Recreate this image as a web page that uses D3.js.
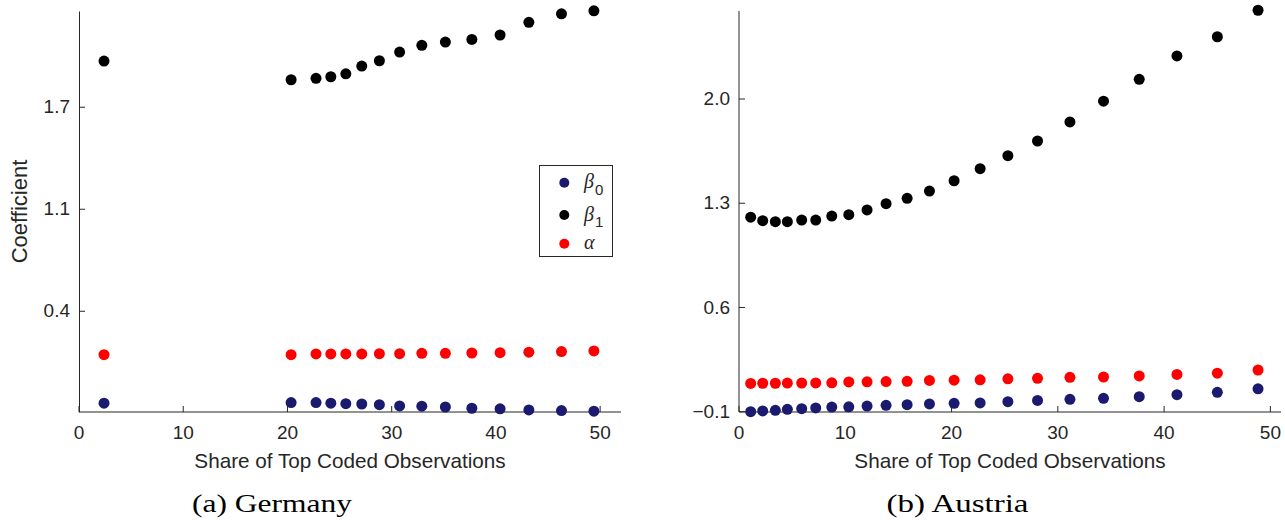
<!DOCTYPE html>
<html>
<head>
<meta charset="utf-8">
<script src="https://cdn.jsdelivr.net/npm/d3@7"></script>
<style>
  html, body { margin: 0; padding: 0; background: #fff; }
  svg { display: block; }
  .tick text { font-family: "Liberation Sans", Arial, sans-serif; font-size: 19px; fill: #262626; }
</style>
</head>
<body>
<svg id="fig" width="1285" height="520"></svg>
<script>
// Germany: share of top-coded observations and estimated coefficients
const deShare = [2.4, 20.35, 22.74, 24.16, 25.6, 27.13, 28.82, 30.76, 32.89, 35.15, 37.69, 40.4, 43.16, 46.29, 49.4];
const deBeta0 = [-0.169, -0.165, -0.165, -0.169, -0.172, -0.174, -0.178, -0.186, -0.188, -0.193, -0.201, -0.205, -0.212, -0.216, -0.220];
const deBeta1 = [2.011, 1.892, 1.901, 1.911, 1.930, 1.979, 2.013, 2.068, 2.111, 2.132, 2.149, 2.177, 2.258, 2.312, 2.331];
const deAlpha = [0.140, 0.140, 0.145, 0.145, 0.145, 0.145, 0.147, 0.147, 0.149, 0.149, 0.151, 0.153, 0.156, 0.160, 0.164];

// Austria
const atShare = [1.10, 2.23, 3.42, 4.55, 5.90, 7.22, 8.73, 10.33, 12.05, 13.84, 15.82, 17.92, 20.24, 22.69, 25.30, 28.09, 31.14, 34.30, 37.66, 41.21, 45.01, 48.84];
const atBeta0 = [-0.100, -0.095, -0.091, -0.084, -0.080, -0.075, -0.069, -0.067, -0.062, -0.057, -0.053, -0.048, -0.044, -0.041, -0.033, -0.024, -0.017, -0.010, 0.001, 0.014, 0.030, 0.054];
const atBeta1 = [1.206, 1.183, 1.176, 1.176, 1.187, 1.187, 1.214, 1.223, 1.255, 1.297, 1.333, 1.382, 1.451, 1.532, 1.619, 1.718, 1.846, 1.985, 2.132, 2.289, 2.418, 2.596];
const atAlpha = [0.090, 0.091, 0.091, 0.092, 0.092, 0.093, 0.094, 0.100, 0.101, 0.102, 0.104, 0.110, 0.112, 0.114, 0.121, 0.124, 0.131, 0.133, 0.140, 0.150, 0.159, 0.180];

// Tick values and labels
const xTicks = [0, 10, 20, 30, 40, 50];
const deYTicks = [0.42, 1.07, 1.72];
const atYTicks = [-0.1, 0.6, 1.3, 2.0];

// Legend entries
const legendSymbols = ["\u03B2", "\u03B2", "\u03B1"];
const legendSubs = ["0", "1", ""];
const seriesColors = ["#1a1a6f", "#000000", "#ff0000"];

const svg = d3.select("#fig");
const AX = "#262626";

function panel(cfg) {
  const x = d3.scaleLinear().domain(cfg.xDomain).range([cfg.left, cfg.right]);
  const y = d3.scaleLinear().domain(cfg.yDomain).range([cfg.bottom, cfg.top]);
  const g = svg.append("g");

  // x axis (ticks point inward)
  const xa = g.append("g")
    .attr("transform", `translate(0,${Math.round(cfg.bottom)})`)
    .call(d3.axisBottom(x).tickValues(xTicks).tickFormat(d3.format("d"))
      .tickSizeInner(-6).tickSizeOuter(0).tickPadding(14).offset(0));
  xa.select(".domain").attr("stroke", AX).attr("stroke-width", 1);
  xa.selectAll(".tick line").attr("stroke", AX);

  // y axis
  const ya = g.append("g")
    .attr("transform", `translate(${cfg.left},0)`)
    .call(d3.axisLeft(y).tickValues(cfg.yTicks).tickFormat(d3.format(".1f"))
      .tickSizeInner(-6).tickSizeOuter(0).tickPadding(9).offset(cfg.yOffset));
  ya.select(".domain").attr("stroke", AX).attr("stroke-width", 1);
  ya.selectAll(".tick line").attr("stroke", AX);

  // x label
  g.append("text")
    .attr("x", (cfg.left + cfg.right) / 2).attr("y", 467.5)
    .attr("text-anchor", "middle")
    .style("font-family", "'Liberation Sans', Arial, sans-serif")
    .style("font-size", "20.7px").style("fill", AX)
    .text("Share of Top Coded Observations");

  // points
  const series = [cfg.b0, cfg.b1, cfg.a];
  series.forEach((vals, si) => {
    g.append("g").selectAll("circle")
      .data(vals.map((v, i) => [cfg.share[i], v]))
      .join("circle")
      .attr("cx", d => x(d[0]))
      .attr("cy", d => y(d[1]))
      .attr("r", 5.5)
      .attr("fill", seriesColors[si]);
  });

  // caption
  g.append("text")
    .attr("x", cfg.capX).attr("y", 512)
    .attr("text-anchor", "middle")
    .attr("textLength", cfg.capLen).attr("lengthAdjust", "spacingAndGlyphs")
    .style("font-family", "'Liberation Serif', 'Times New Roman', serif")
    .style("font-size", "25px").style("fill", "#000")
    .text(cfg.caption);
  return { x, y, g };
}

panel({
  left: 79, right: 621, top: 11, bottom: 411.7,
  xDomain: [0, 52], yDomain: [-0.223, 2.33], yTicks: deYTicks, yOffset: 0.5,
  share: deShare, b0: deBeta0, b1: deBeta1, a: deAlpha,
  caption: "(a) Germany", capX: 272, capLen: 160
});

panel({
  left: 739, right: 1281, top: 11, bottom: 411.7,
  xDomain: [0, 51], yDomain: [-0.1, 2.591], yTicks: atYTicks, yOffset: 0,
  share: atShare, b0: atBeta0, b1: atBeta1, a: atAlpha,
  caption: "(b) Austria", capX: 957.5, capLen: 142
});

// y label
svg.append("text")
  .attr("transform", "translate(27,211.5) rotate(-90)")
  .attr("text-anchor", "middle")
  .style("font-family", "'Liberation Sans', Arial, sans-serif")
  .style("font-size", "22px").style("fill", AX)
  .text("Coefficient");

// legend
const lg = svg.append("g");
lg.append("rect")
  .attr("x", 539.5).attr("y", 165.5).attr("width", 73).attr("height", 91)
  .attr("fill", "#fff").attr("stroke", AX).attr("stroke-width", 1);
const rowY = [182.7, 215, 243.7];
legendSymbols.forEach((s, i) => {
  lg.append("circle").attr("cx", 564.3).attr("cy", rowY[i]).attr("r", 5).attr("fill", seriesColors[i]);
  const t = lg.append("text").attr("x", 584).attr("y", rowY[i] + 5.5)
    .style("font-family", "'Liberation Serif', 'Times New Roman', serif")
    .style("font-style", "italic").style("font-size", "20px").style("fill", AX);
  t.append("tspan").text(s);
  if (legendSubs[i]) {
    t.append("tspan").attr("dx", 1).attr("dy", 6.5)
      .style("font-family", "'Liberation Sans', Arial, sans-serif")
      .style("font-style", "normal").style("font-size", "15px")
      .text(legendSubs[i]);
  }
});
</script>
</body>
</html>
